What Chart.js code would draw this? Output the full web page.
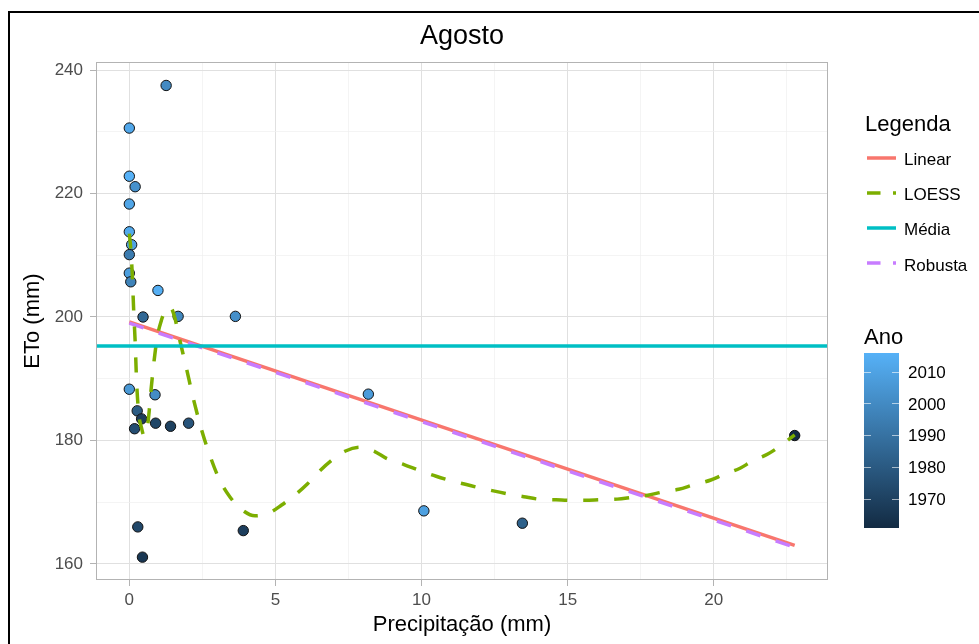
<!DOCTYPE html>
<html>
<head>
<meta charset="utf-8">
<script src="https://cdn.jsdelivr.net/npm/chart.js@4"></script>
<style>
  body { margin: 0; background: #fff; font-family: "Liberation Sans", Arial, sans-serif; }
  #wrap { position: relative; width: 979px; height: 644px; overflow: hidden; }
  #frame { position: absolute; left: 8px; top: 11px; width: 990px; height: 700px; border: 2px solid #000; box-sizing: border-box; }
  #chartBox { position: absolute; left: 0; top: 0; width: 979px; height: 644px; }
  .txt { position: absolute; white-space: nowrap; line-height: 1; color: #000; }
  .key { position: absolute; }
  #bar { position: absolute; left: 864px; top: 353px; width: 35px; height: 175px; }
</style>
</head>
<body>
<div id="wrap">
  <div id="frame"></div>
  <div id="chartBox"><canvas id="chart"></canvas></div>
  <div class="txt" id="title" style="left:262px;width:400px;text-align:center;top:22px;font-size:27px;">Agosto</div>
  <div class="txt" style="left:865px;top:113px;font-size:22px;">Legenda</div>
  <div id="legendItems"></div>
  <div class="txt" style="left:864px;top:326px;font-size:22px;">Ano</div>
  <div id="bar"></div>
  <div id="barTicks"></div>
</div>
<script>
// === Data ===
const precip = [1.26, 0, 0, 0.2, 0, 0, 0.08, 0, 0, 0.05, 0.98, 0.47, 1.67, 3.63, 0, 0.88,
  0.27, 0.42, 0.9, 0.18, 1.41, 2.03, 0.29, 0.45, 3.9, 8.18, 10.08, 13.45, 22.77];
const eto = [237.5, 230.6, 222.8, 221.1, 218.3, 213.8, 211.7, 210.1, 207.1, 205.7, 204.3, 200.0, 200.1, 200.1, 188.3, 187.4,
  184.8, 183.5, 182.8, 181.9, 182.3, 182.8, 166.0, 161.1, 165.4, 187.5, 168.6, 166.6, 180.8];
const ano = [2000, 2012, 2016, 2003, 2011, 2013, 2010, 1994, 2008, 1997, 2015, 1986, 1999, 2002, 2006, 2001,
  1981, 1968, 1972, 1975, 1970, 1978, 1973, 1966, 1969, 2007, 2009, 1983, 1961];

const linearX = [0, 22.77];
const linearY = [199.2, 163.0];
const robustaX = [0, 22.77];
const robustaY = [199.0, 162.7];
const mediaEto = 195.3;

const loessX = [0, 0.05, 0.1, 0.15, 0.2, 0.25, 0.32, 0.42, 0.5, 0.58, 0.66, 0.75, 0.85, 0.95, 1.1, 1.25, 1.4, 1.55,
  1.7, 1.95, 2.2, 2.5, 2.8, 3.1, 3.45, 3.85, 4.3, 4.8, 5.2, 5.7, 6.1, 6.5, 6.9, 7.4, 7.9, 8.4, 8.8, 9.4, 9.9,
  10.5, 11.0, 11.5, 12.0, 12.5, 13.0, 13.5, 14.0, 14.6, 15.1, 15.6, 16.1, 16.7, 17.2, 17.7, 18.3, 18.8, 19.3,
  19.9, 20.3, 20.9, 21.3, 21.85, 22.3, 22.77];
const loessY = [213.5, 211, 207, 201, 196, 189.5, 184.5, 182, 180.8, 181, 183.8, 188.5, 193, 196.6, 199.5, 201.2, 201.6, 200,
  196.8, 191.8, 186.6, 181.3, 177, 173.5, 170.8, 168.8, 167.8, 168.3, 169.5, 171.3, 173, 175, 176.7, 178.3, 178.9, 178.2, 177.1, 176.1, 175.2,
  174.2, 173.5, 172.9, 172.3, 171.8, 171.3, 170.9, 170.5, 170.4, 170.3, 170.3, 170.4, 170.5, 170.8, 171.1, 171.7, 172.1, 172.8,
  173.6, 174.4, 175.5, 176.6, 177.8, 179.2, 180.9];

const xMajor = [0, 5, 10, 15, 20];
const xMinor = [2.5, 7.5, 12.5, 17.5, 22.5];
const yMajor = [160, 180, 200, 220, 240];
const yMinor = [170, 190, 210, 230];
const anoTicks = [1970, 1980, 1990, 2000, 2010];

const X_MIN = -1.14, X_MAX = 23.91;
const Y_MIN = 157.4, Y_MAX = 241.3;

const FONT = '"Liberation Sans", Arial, sans-serif';
const LOW = [0x13, 0x2b, 0x43];
const HIGH = [0x56, 0xb1, 0xf7];
const anoMin = Math.min(...ano), anoMax = Math.max(...ano);

// === Colour scale ===
function anoColor(a) {
  const t = (a - anoMin) / (anoMax - anoMin);
  const c = LOW.map((v, i) => Math.round(v + (HIGH[i] - v) * t));
  return `rgb(${c[0]}, ${c[1]}, ${c[2]})`;
}

const zip = (xs, ys) => xs.map((x, i) => ({ x, y: ys[i] }));

// === Panel border ===
const panelBorder = {
  id: "panelBorder",
  afterDraw(chart) {
    const { ctx, chartArea: a } = chart;
    ctx.save();
    ctx.strokeStyle = "#B3B3B3";
    ctx.lineWidth = 1;
    ctx.strokeRect(a.left + 0.5, a.top + 0.5, a.right - a.left - 1, a.bottom - a.top - 1);
    ctx.restore();
  },
};

const isMajor = (scale, v) => (scale === "x" ? xMajor : yMajor).includes(v);

function axisOpts(axis, min, max, major, minor) {
  return {
    type: "linear",
    min,
    max,
    afterBuildTicks: (s) => {
      s.ticks = [...major, ...minor].sort((a, b) => a - b).map((v) => ({ value: v }));
    },
    afterFit: (s) => {
      if (axis === "x") s.height = 64;
      else s.width = 96;
    },
    border: { display: false },
    grid: {
      color: (c) => (isMajor(axis, c.tick.value) ? "#E0E0E0" : "#EFEFEF"),
      lineWidth: (c) => (isMajor(axis, c.tick.value) ? 1 : 0.7),
      tickColor: (c) => (isMajor(axis, c.tick.value) ? "#B3B3B3" : "rgba(0,0,0,0)"),
      tickLength: 6,
    },
    ticks: {
      padding: axis === "x" ? 4 : 7,
      color: "#4D4D4D",
      font: { family: FONT, size: 17 },
      callback: (v) => (major.includes(v) ? String(v) : ""),
    },
    title: {
      display: true,
      text: axis === "x" ? "Precipitação (mm)" : "ETo (mm)",
      color: "#000",
      font: { family: FONT, size: 22 },
      padding: axis === "x" ? { top: 0, bottom: 6 } : { top: 20, bottom: 0 },
    },
  };
}

const lineBase = { showLine: true, pointRadius: 0, borderWidth: 3.5, fill: false };

new Chart(document.getElementById("chart"), {
  type: "scatter",
  data: {
    datasets: [
      {
        label: "Média",
        data: [{ x: X_MIN, y: mediaEto }, { x: X_MAX, y: mediaEto }],
        borderColor: "#00BFC4",
        order: 1,
        ...lineBase,
      },
      {
        label: "LOESS",
        data: zip(loessX, loessY),
        borderColor: "#7CAE00",
        borderDash: [15, 16],
        cubicInterpolationMode: "monotone",
        order: 2,
        ...lineBase,
      },
      {
        label: "Robusta",
        data: zip(robustaX, robustaY),
        borderColor: "#C77CFF",
        borderDash: [15, 16],
        order: 3,
        ...lineBase,
      },
      {
        label: "Linear",
        data: zip(linearX, linearY),
        borderColor: "#F8766D",
        order: 4,
        ...lineBase,
      },
      {
        label: "Ano",
        data: zip(precip, eto),
        backgroundColor: ano.map(anoColor),
        borderColor: "#111",
        borderWidth: 1,
        pointRadius: 5.2,
        order: 10,
      },
    ],
  },
  options: {
    responsive: true,
    maintainAspectRatio: false,
    animation: false,
    layout: { padding: { left: 0, top: 62, right: 151, bottom: 0 } },
    plugins: { legend: { display: false }, tooltip: { enabled: false } },
    scales: {
      x: axisOpts("x", X_MIN, X_MAX, xMajor, xMinor),
      y: axisOpts("y", Y_MIN, Y_MAX, yMajor, yMinor),
    },
  },
  plugins: [panelBorder],
});

// === Legend ===
const legendNames = ["Linear", "LOESS", "Média", "Robusta"];
const legendColors = ["#F8766D", "#7CAE00", "#00BFC4", "#C77CFF"];
const legendDashed = [false, true, false, true];
const legendBox = document.getElementById("legendItems");
legendNames.forEach((name, i) => {
  const y = 157.5 + i * 35.3;
  const dash = legendDashed[i] ? 'stroke-dasharray="13.5 12.5"' : "";
  legendBox.innerHTML += `
    <svg class="key" style="left:867px;top:${y - 5}px" width="29" height="10">
      <line x1="0" y1="5" x2="29" y2="5" stroke="${legendColors[i]}" stroke-width="3.5" ${dash}/>
    </svg>
    <div class="txt" style="left:904px;top:${y + 7.5 - 14.4}px;font-size:17px;">${name}</div>`;
});

// === Colour bar ===
const bar = document.getElementById("bar");
const barTop = 353, barH = 175;
bar.style.background = `linear-gradient(to bottom, ${anoColor(anoMax)}, ${anoColor(anoMin)})`;
const barTicks = document.getElementById("barTicks");
anoTicks.forEach((a) => {
  const y = barTop + ((anoMax - a) / (anoMax - anoMin)) * barH;
  barTicks.innerHTML += `
    <div style="position:absolute;left:864px;top:${y - 0.5}px;width:7px;height:1px;background:rgba(255,255,255,0.6)"></div>
    <div style="position:absolute;left:892px;top:${y - 0.5}px;width:7px;height:1px;background:rgba(255,255,255,0.6)"></div>
    <div class="txt" style="left:908px;top:${y - 8.3}px;font-size:17px;">${a}</div>`;
});
</script>
</body>
</html>
